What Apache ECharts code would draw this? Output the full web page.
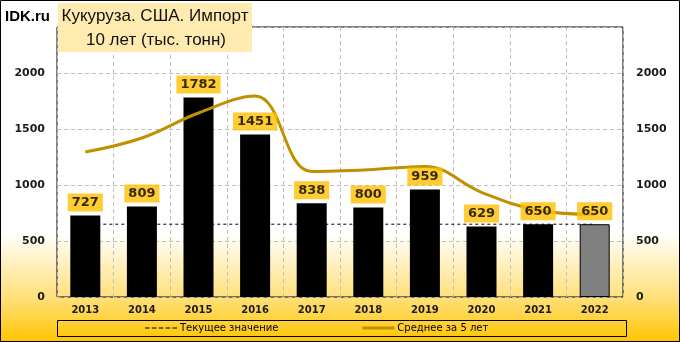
<!DOCTYPE html>
<html><head><meta charset="utf-8">
<script src="https://cdn.jsdelivr.net/npm/echarts@6/dist/echarts.min.js"></script>
<style>html,body{margin:0;padding:0;background:#fff}#c{width:680px;height:342px}</style>
</head><body><div id="c"></div>
<script>
const years = ['2013','2014','2015','2016','2017','2018','2019','2020','2021','2022'];
const imports = [727, 809, 1782, 1451, 838, 800, 959, 629, 650, 650];
const avg5 = [1295, 1420, 1643, 1795, 1121, 1136, 1166, 935, 775, 738];
const current = [650, 650, 650, 650, 650, 650, 650, 650, 650, 650];
const yTicks = [0, 500, 1000, 1500, 2000];

const chart = echarts.init(document.getElementById('c'), null, {renderer: 'canvas'});
const barData = imports.map((v, i) => i === imports.length - 1
  ? {value: v, itemStyle: {color: '#808080', borderColor: '#000', borderWidth: 1}}
  : v);
const yAxisCommon = {
  type: 'value', min: 0, max: 2411, interval: 500,
  axisLine: {show: false},
  axisTick: {show: false},
  splitLine: {show: true, lineStyle: {color: '#BFBFBF', type: [4, 3], width: 1}},
  axisLabel: {fontFamily: 'DejaVu Sans', fontWeight: 'bold', fontSize: 11, color: '#1a1a1a', showMaxLabel: false,
    formatter: v => yTicks.includes(v) ? String(v) : ''}
};
chart.setOption({
  animation: false,
  backgroundColor: {type: 'linear', x: 0, y: 0, x2: 0, y2: 1, colorStops: [
    {offset: 0, color: '#ffffff'}, {offset: 0.68, color: '#ffffff'},
    {offset: 0.87, color: '#FFE07A'}, {offset: 1, color: '#FFC400'}]},
  grid: {left: 57, right: 57, top: 27, bottom: 45, show: true, borderColor: '#000', borderWidth: 1, backgroundColor: 'transparent'},
  graphic: [
    {type: 'rect', shape: {x: 0.5, y: 0.5, width: 679, height: 341}, style: {fill: 'none', stroke: '#000', lineWidth: 1}, z: 100},
    {type: 'rect', shape: {x: 57.5, y: 320.5, width: 569, height: 16}, style: {fill: 'none', stroke: '#000', lineWidth: 1}, z: 100},
    {type: 'rect', shape: {x: 58, y: 3, width: 194, height: 49}, style: {fill: '#FFEBB0'}, z: 90},
    {type: 'text', x: 155, y: 16, style: {text: 'Кукуруза. США. Импорт', font: '17px "Liberation Sans"', fill: '#111', textAlign: 'center', textVerticalAlign: 'middle'}, z: 91},
    {type: 'text', x: 156, y: 40, style: {text: '10 лет (тыс. тонн)', font: '17px "Liberation Sans"', fill: '#111', textAlign: 'center', textVerticalAlign: 'middle'}, z: 91},
    {type: 'text', x: 5, y: 17, style: {text: 'IDK.ru', font: 'bold 15px "Liberation Sans"', fill: '#000', textVerticalAlign: 'middle'}, z: 91}
  ],
  legend: {
    left: 145, top: 323, padding: 0, itemGap: 84, itemWidth: 32, itemHeight: 3,
    textStyle: {fontFamily: 'DejaVu Sans', fontSize: 10, color: '#000', padding: [0,0,0,-2]},
    data: [
      {name: 'Текущее значение', icon: 'path://M0,0h4v1h-4zM6,0h4v1h-4zM12,0h4v1h-4zM18,0h4v1h-4zM24,0h4v1h-4z', itemStyle: {color: '#000'}},
      {name: 'Среднее за 5 лет', icon: 'rect', itemStyle: {color: '#BF9000'}}
    ]
  },
  xAxis: {
    type: 'category', data: years, boundaryGap: true,
    axisLine: {show: false}, axisTick: {show: false},
    splitLine: {show: true, interval: 0, lineStyle: {color: '#BFBFBF', type: [4, 3], width: 1}},
    axisLabel: {fontFamily: 'DejaVu Sans', fontWeight: 'bold', fontSize: 10, color: '#1a1a1a', margin: 8, interval: 0}
  },
  yAxis: [
    Object.assign({position: 'left'}, yAxisCommon, {axisLabel: Object.assign({}, yAxisCommon.axisLabel, {margin: 12})}),
    Object.assign({position: 'right'}, yAxisCommon, {splitLine: {show: false}, axisLabel: Object.assign({}, yAxisCommon.axisLabel, {margin: 13})})
  ],
  series: [
    {name: 'Текущее значение', type: 'line', data: current, symbol: 'none', z: 1,
      lineStyle: {color: '#000', width: 1, type: [3, 3]}, itemStyle: {color: '#000'}},
    {name: 'Импорт', type: 'bar', data: barData, barWidth: 30, z: 2, itemStyle: {color: '#000'}},
    {name: 'Среднее за 5 лет', type: 'line', data: avg5, symbol: 'none', smooth: 0.4, z: 3,
      lineStyle: {color: '#BF9000', width: 3}, itemStyle: {color: '#BF9000'}},
    {name: 'labels', type: 'scatter', data: imports, symbolSize: 0, z: 10,
      label: {show: true, position: 'top', distance: 4, backgroundColor: '#FFC000', padding: [3, 4, 2, 4],
        fontFamily: 'DejaVu Sans', fontWeight: 'bold', fontSize: 13, color: '#000'}}
  ]
});
</script></body></html>
